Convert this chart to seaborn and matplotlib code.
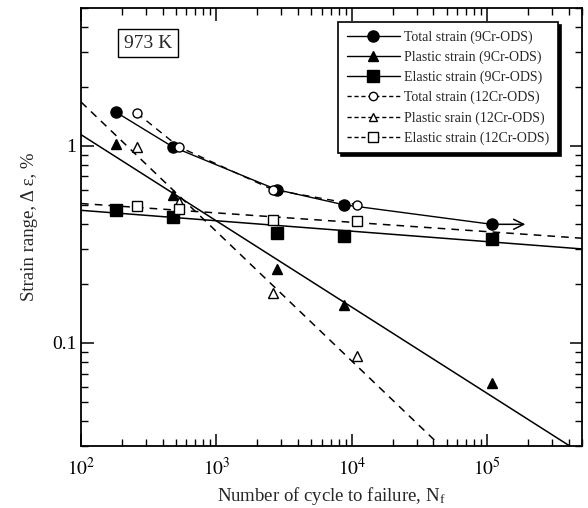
import numpy as np
import pandas as pd
import matplotlib
matplotlib.use("Agg")
import matplotlib.pyplot as plt
import seaborn as sns
from matplotlib.lines import Line2D
from matplotlib.ticker import FixedLocator, FixedFormatter, LogLocator, NullFormatter

# measured points (cycles to failure, strain range %)
cr9_n = [182, 474, 2780, 8670, 108000]
cr9_total = [1.48, 0.99, 0.60, 0.503, 0.40]
cr9_plastic = [1.02, 0.565, 0.236, 0.155, 0.063]
cr9_elastic = [0.475, 0.436, 0.362, 0.347, 0.336]

cr12_n = [258, 526, 2600, 10900]
cr12_total = [1.47, 0.99, 0.60, 0.503]
cr12_plastic = [0.99, 0.52, 0.18, 0.086]
cr12_elastic = [0.495, 0.48, 0.42, 0.415]

# fitted lines (end points)
fit_n = [100, 500000]
fit9_plastic = [1.14, 0.0274]
fit12_plastic_n = [100, 43000]
fit12_plastic = [1.67, 0.031]
fit9_elastic = [0.471, 0.30]
fit12_elastic = [0.51, 0.34]

runout_end = 200000

sns.set_style("ticks")
plt.rcParams['font.family'] = ['Liberation Serif', 'DejaVu Serif']
plt.rcParams['mathtext.fontset'] = 'stix'

fig = plt.figure(figsize=(5.88, 5.08), dpi=100)
ax = fig.add_axes([0.1378, 0.122, 0.852, 0.862])
ax.set_xscale('log')
ax.set_yscale('log')

k = 'black'
# fit lines
sns.lineplot(x=fit_n, y=fit9_plastic, ax=ax, color=k, lw=1.1, estimator=None, sort=False)
sns.lineplot(x=fit_n, y=fit9_elastic, ax=ax, color=k, lw=1.1, estimator=None, sort=False)
ax.plot(fit12_plastic_n, fit12_plastic, color=k, lw=1.1, ls=(0, (5, 4)))
ax.plot(fit_n, fit12_elastic, color=k, lw=1.1, ls=(0, (5, 4)))

# total strain polylines
ax.plot(cr9_n, cr9_total, color=k, lw=1.0)
ax.plot(cr12_n, cr12_total, color=k, lw=1.0, ls=(0, (5, 4)))

# markers
ax.plot(cr9_n, cr9_total, 'o', color=k, ms=8)
ax.plot(cr9_n, cr9_plastic, '^', color=k, ms=6.5)
ax.plot(cr9_n, cr9_elastic, 's', color=k, ms=8)
ax.plot(cr12_n, cr12_total, 'o', mfc='white', mec=k, ms=6.5, mew=1)
ax.plot(cr12_n, cr12_plastic, '^', mfc='white', mec=k, ms=6.5, mew=1)
ax.plot(cr12_n, cr12_elastic, 's', mfc='white', mec=k, ms=7, mew=1)

# run-out arrow
ax.annotate('', xy=(runout_end, cr9_total[-1]), xytext=(cr9_n[-1], cr9_total[-1]),
            arrowprops=dict(arrowstyle='->', color=k, lw=1.1, mutation_scale=18))

ax.set_xlim(100, 5e5)
ax.set_ylim(0.03, 5)

ax.xaxis.set_major_locator(FixedLocator([1e2, 1e3, 1e4, 1e5]))
ax.xaxis.set_major_formatter(FixedFormatter(['$10^2$', '$10^3$', '$10^4$', '$10^5$']))
ax.yaxis.set_major_locator(FixedLocator([0.1, 1]))
ax.yaxis.set_major_formatter(FixedFormatter(['0.1', '1']))
ax.xaxis.set_minor_locator(LogLocator(base=10, subs=np.arange(2, 10), numticks=20))
ax.yaxis.set_minor_locator(LogLocator(base=10, subs=np.arange(2, 10), numticks=20))
ax.xaxis.set_minor_formatter(NullFormatter())
ax.yaxis.set_minor_formatter(NullFormatter())
ax.tick_params(which='both', direction='in', top=True, right=True, colors=k, labelsize=14)
ax.tick_params(which='major', length=9, width=1.1)
ax.tick_params(which='minor', length=5, width=1.0)
ax.tick_params(axis='x', pad=8)
for s in ax.spines.values():
    s.set_linewidth(1.3)
    s.set_color(k)

ax.set_xlabel('Number of cycle to failure, N$_\\mathregular{f}$', fontsize=13.5, labelpad=4)
ax.set_ylabel('Strain range, \u0394 \u03b5, %', fontsize=13.5, labelpad=10)

ax.text(0.085, 0.91, '973 K', transform=ax.transAxes, fontsize=14,
        bbox=dict(boxstyle='square,pad=0.3', fc='white', ec=k, lw=1.0))

handles = [
    Line2D([], [], color=k, lw=1.0, marker='o', ms=8),
    Line2D([], [], color=k, lw=1.0, marker='^', ms=6.5),
    Line2D([], [], color=k, lw=1.0, marker='s', ms=8),
    Line2D([], [], color=k, lw=1.0, ls=(0, (3, 2)), marker='o', mfc='white', ms=6),
    Line2D([], [], color=k, lw=1.0, ls=(0, (3, 2)), marker='^', mfc='white', ms=6),
    Line2D([], [], color=k, lw=1.0, ls=(0, (3, 2)), marker='s', mfc='white', ms=6.5),
]
labels = ['Total strain (9Cr-ODS)', 'Plastic strain (9Cr-ODS)', 'Elastic strain (9Cr-ODS)',
          'Total strain (12Cr-ODS)', 'Plastic srain (12Cr-ODS)', 'Elastic strain (12Cr-ODS)']
leg = ax.legend(handles, labels, loc='upper right', bbox_to_anchor=(0.952, 0.968),
                borderaxespad=0,
                fontsize=10, fancybox=False, framealpha=1, edgecolor=k,
                shadow=dict(color='black', alpha=1), handlelength=3.8,
                handletextpad=0.35, labelspacing=0.48, borderpad=0.6)
leg.get_frame().set_linewidth(1.2)

fig.savefig('out.png', dpi=100)
